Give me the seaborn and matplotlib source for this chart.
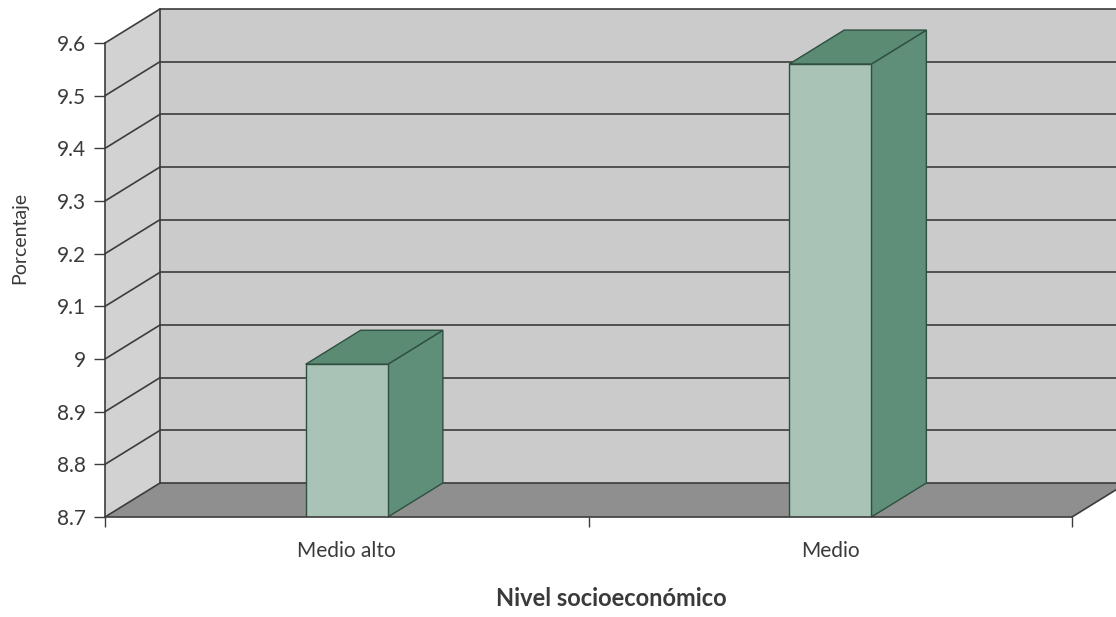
import matplotlib
matplotlib.use('Agg')

import matplotlib.pyplot as plt
from matplotlib.patches import Polygon
import seaborn as sns
import pandas as pd
import numpy as np

# Data
categorias = ['Medio alto', 'Medio']
porcentajes = [8.99, 9.56]
y_ticks = [8.7, 8.8, 8.9, 9.0, 9.1, 9.2, 9.3, 9.4, 9.5, 9.6]
y_tick_labels = ['8.7', '8.8', '8.9', '9', '9.1', '9.2', '9.3', '9.4', '9.5', '9.6']

df = pd.DataFrame({'Nivel': categorias, 'Porcentaje': porcentajes})

# Style
sns.set_style('white')
plt.rcParams['font.family'] = ['Lato', 'DejaVu Sans']

color_front = '#a9c3b6'
color_side = '#5f8f79'
color_top = '#5c8b74'
color_edge = '#2e4f42'
color_wall = '#cbcbcb'
color_side_wall = '#d2d2d2'
color_floor = '#8f8f8f'
color_line = '#3c3c3c'
text_color = '#3a3a3a'

# depth offset of the 3D box, in pixels
depth_px = (55, 34)

fig = plt.figure(figsize=(11.16, 6.17), dpi=100)
ax = fig.add_axes([0.0941, 0.1621, 0.8665, 0.7682])

sns.barplot(data=df, x='Nivel', y='Porcentaje', color=color_front, width=0.17,
            edgecolor=color_edge, linewidth=1.0, saturation=1, ax=ax, zorder=4)

ax.set_xlim(-0.5, len(categorias) - 0.5)
ax.set_ylim(y_ticks[0], y_ticks[-1])
ymin, ymax = y_ticks[0], y_ticks[-1]
xmin, xmax = ax.get_xlim()


def back(x, y):
    # move a data point to the back plane of the box
    px = ax.transData.transform((x, y)) + np.array(depth_px)
    return ax.transData.inverted().transform(px)


def face(points, color, z, lw=1.0, ec=color_line):
    ax.add_patch(Polygon(points, closed=True, facecolor=color, edgecolor=ec,
                         linewidth=lw, zorder=z, clip_on=False))


# Walls and floor
face([back(xmin, ymin), back(xmax, ymin), back(xmax, ymax), back(xmin, ymax)],
     color_wall, 0, lw=0)
face([(xmin, ymin), (xmin, ymax), back(xmin, ymax), back(xmin, ymin)],
     color_side_wall, 0, lw=0)
face([(xmin, ymin), (xmax, ymin), back(xmax, ymin), back(xmin, ymin)],
     color_floor, 0.5, lw=0)

# Gridlines on back wall and diagonals on side wall
for yt in y_ticks:
    b0, b1 = back(xmin, yt), back(xmax, yt)
    ax.plot([b0[0], b1[0]], [b0[1], b1[1]], color=color_line, lw=1.2,
            zorder=1, clip_on=False)
    ax.plot([xmin, b0[0]], [yt, b0[1]], color=color_line, lw=1.2,
            zorder=1, clip_on=False)
b0, b1 = back(xmin, ymin), back(xmin, ymax)
ax.plot([b0[0], b1[0]], [b0[1], b1[1]], color=color_line, lw=1.2, zorder=1, clip_on=False)
br = back(xmax, ymin)
ax.plot([xmax, br[0]], [ymin, br[1]], color=color_line, lw=1.2, zorder=1, clip_on=False)

# 3D sides and tops of the bars
for p in ax.patches[:]:
    if not hasattr(p, 'get_width') or p.get_zorder() != 4:
        continue
    x0 = p.get_x()
    x1 = x0 + p.get_width()
    top = p.get_y() + p.get_height()
    face([(x1, ymin), (x1, top), back(x1, top), back(x1, ymin)], color_side, 3, ec=color_edge)
    face([(x0, top), (x1, top), back(x1, top), back(x0, top)], color_top, 3, ec=color_edge)

# Axes, ticks and labels
sns.despine(ax=ax, top=True, right=True)
for s in ['left', 'bottom']:
    ax.spines[s].set_color(color_line)
    ax.spines[s].set_linewidth(1.2)
    ax.spines[s].set_zorder(5)

ax.set_yticks(y_ticks)
ax.set_yticklabels(y_tick_labels)
ax.tick_params(axis='y', direction='out', length=8, width=1.0, color=color_line,
               pad=6, labelsize=15, labelcolor=text_color, left=True)

ax.set_xticks([xmin, 0.5, xmax])
ax.set_xticklabels(['', '', ''])
ax.set_xticks(range(len(categorias)), minor=True)
ax.set_xticklabels(categorias, minor=True)
ax.tick_params(axis='x', which='major', direction='out', length=7, width=1.0,
               color=color_line, bottom=True)
ax.tick_params(axis='x', which='minor', length=0, pad=17, labelsize=15,
               labelcolor=text_color)

ax.set_xlabel('Nivel socioeconómico', fontsize=17, fontweight='bold', color=text_color)
ax.xaxis.set_label_coords(0.524, -0.173)
ax.xaxis.label.set_va('center')
ax.set_ylabel('Porcentaje', fontsize=14, color=text_color)
ax.yaxis.set_label_coords(-0.088, 0.589)
ax.yaxis.label.set_va('center')

ax.grid(False)
ax.set_facecolor('none')

plt.savefig('out.png', dpi=100)
